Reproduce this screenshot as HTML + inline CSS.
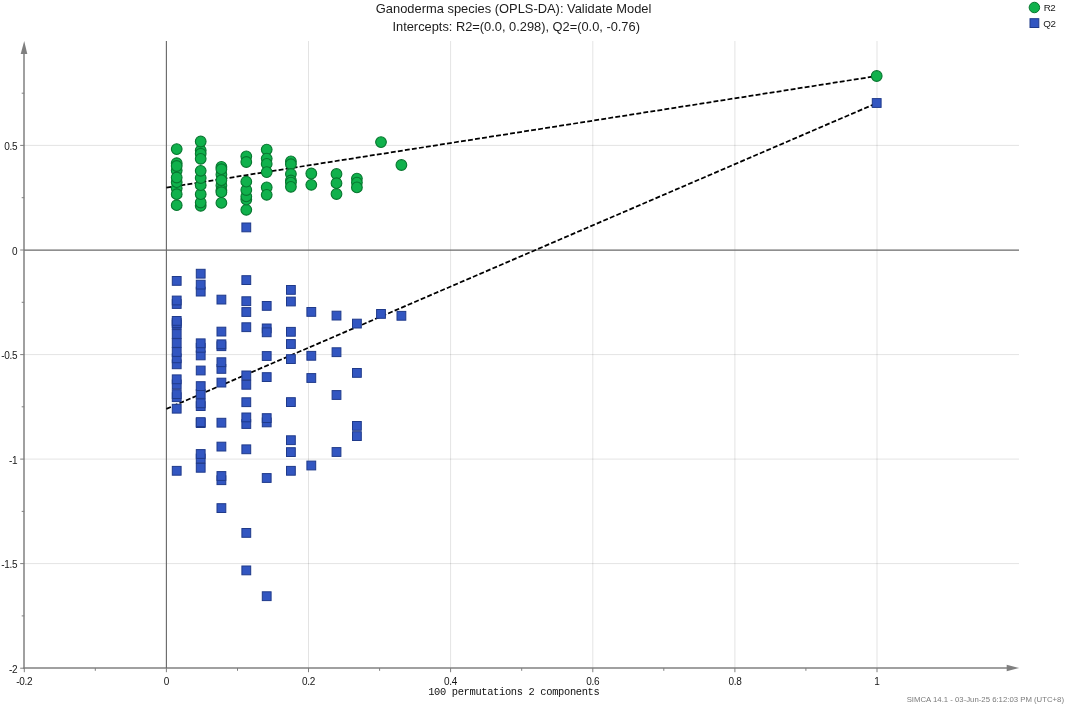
<!DOCTYPE html>
<html><head><meta charset="utf-8"><title>Validate Model</title>
<style>
html,body{margin:0;padding:0;background:#fff;}
body{width:1065px;height:705px;overflow:hidden;position:relative;font-family:"Liberation Sans",sans-serif;}
svg{position:absolute;left:0;top:0;display:block}
text{font-family:"Liberation Sans",sans-serif;fill:#222;}
.t{font-size:12.9px;text-anchor:middle;fill:#1c1c1c}
.t2{font-size:12.84px}
.tk{font-size:10px;fill:#161616;letter-spacing:-0.3px}
.lg{font-size:9.8px;fill:#1a1a1a;letter-spacing:-0.45px}
.xl{font-family:"Liberation Mono",monospace;font-size:10.4px;letter-spacing:-0.33px;fill:#111;text-anchor:middle}
.ft{font-size:7.78px;fill:#7a7a7a;text-anchor:end}
</style></head><body>
<svg width="1065" height="705" viewBox="0 0 1065 705">
<rect width="1065" height="705" fill="#fff"/>
<g stroke="#000" stroke-opacity="0.11" stroke-width="1" fill="none">
<line x1="308.5" y1="41" x2="308.5" y2="668"/>
<line x1="450.6" y1="41" x2="450.6" y2="668"/>
<line x1="592.8" y1="41" x2="592.8" y2="668"/>
<line x1="734.9" y1="41" x2="734.9" y2="668"/>
<line x1="877.0" y1="41" x2="877.0" y2="668"/>
<line x1="24" y1="145.4" x2="1019" y2="145.4"/>
<line x1="24" y1="354.6" x2="1019" y2="354.6"/>
<line x1="24" y1="459.1" x2="1019" y2="459.1"/>
<line x1="24" y1="563.6" x2="1019" y2="563.6"/>
</g>
<g stroke="#808080" stroke-width="1.5" fill="none">
<line x1="24" y1="50" x2="24" y2="668.75"/>
<line x1="23.25" y1="668" x2="1008" y2="668"/>
</g>
<g stroke="#6a6a6a" stroke-width="1.15" fill="none">
<line x1="166.4" y1="41" x2="166.4" y2="668"/>
<line x1="24.2" y1="250.1" x2="1019" y2="250.1"/>
</g>
<polygon points="24.2,41 20.7,54 27.3,54" fill="#7f7f7f"/>
<polygon points="1019.3,668 1006.7,664.8 1006.7,671.2" fill="#7f7f7f"/>
<g stroke="#7f7f7f" stroke-width="1" fill="none">
<line x1="24.3" y1="668" x2="24.3" y2="672.2"/>
<line x1="95.3" y1="668" x2="95.3" y2="670.8"/>
<line x1="166.4" y1="668" x2="166.4" y2="672.2"/>
<line x1="237.5" y1="668" x2="237.5" y2="670.8"/>
<line x1="308.5" y1="668" x2="308.5" y2="672.2"/>
<line x1="379.6" y1="668" x2="379.6" y2="670.8"/>
<line x1="450.6" y1="668" x2="450.6" y2="672.2"/>
<line x1="521.7" y1="668" x2="521.7" y2="670.8"/>
<line x1="592.8" y1="668" x2="592.8" y2="672.2"/>
<line x1="663.8" y1="668" x2="663.8" y2="670.8"/>
<line x1="734.9" y1="668" x2="734.9" y2="672.2"/>
<line x1="805.9" y1="668" x2="805.9" y2="670.8"/>
<line x1="877.0" y1="668" x2="877.0" y2="672.2"/>
<line x1="20.2" y1="668.2" x2="24.2" y2="668.2"/>
<line x1="21.7" y1="615.9" x2="24.2" y2="615.9"/>
<line x1="20.2" y1="563.6" x2="24.2" y2="563.6"/>
<line x1="21.7" y1="511.4" x2="24.2" y2="511.4"/>
<line x1="20.2" y1="459.1" x2="24.2" y2="459.1"/>
<line x1="21.7" y1="406.8" x2="24.2" y2="406.8"/>
<line x1="20.2" y1="354.6" x2="24.2" y2="354.6"/>
<line x1="21.7" y1="302.3" x2="24.2" y2="302.3"/>
<line x1="20.2" y1="250.0" x2="24.2" y2="250.0"/>
<line x1="21.7" y1="197.7" x2="24.2" y2="197.7"/>
<line x1="20.2" y1="145.4" x2="24.2" y2="145.4"/>
<line x1="21.7" y1="93.2" x2="24.2" y2="93.2"/>
</g>
<text class="tk" x="17.3" y="149.9" text-anchor="end">0.5</text>
<text class="tk" x="17.3" y="254.5" text-anchor="end">0</text>
<text class="tk" x="17.3" y="359.1" text-anchor="end">-0.5</text>
<text class="tk" x="17.3" y="463.6" text-anchor="end">-1</text>
<text class="tk" x="17.3" y="568.1" text-anchor="end">-1.5</text>
<text class="tk" x="17.3" y="672.7" text-anchor="end">-2</text>
<text class="tk" x="24.3" y="685.2" text-anchor="middle">-0.2</text>
<text class="tk" x="166.4" y="685.2" text-anchor="middle">0</text>
<text class="tk" x="308.5" y="685.2" text-anchor="middle">0.2</text>
<text class="tk" x="450.6" y="685.2" text-anchor="middle">0.4</text>
<text class="tk" x="592.8" y="685.2" text-anchor="middle">0.6</text>
<text class="tk" x="734.9" y="685.2" text-anchor="middle">0.8</text>
<text class="tk" x="877.0" y="685.2" text-anchor="middle">1</text>
<g stroke="#000" stroke-width="1.75" fill="none" stroke-dasharray="4.9 2.2">
<line x1="166.4" y1="187.7" x2="877.0" y2="76.0"/>
<line x1="166.4" y1="408.9" x2="877.0" y2="103.0"/>
</g>
<g fill="#10b14c" stroke="#08762f" stroke-width="1.1">
<circle cx="176.7" cy="188.2" r="5.35"/>
<circle cx="176.7" cy="205.2" r="5.35"/>
<circle cx="176.7" cy="194.2" r="5.35"/>
<circle cx="176.7" cy="170.5" r="5.35"/>
<circle cx="176.7" cy="182.2" r="5.35"/>
<circle cx="176.7" cy="177.5" r="5.35"/>
<circle cx="176.7" cy="163.2" r="5.35"/>
<circle cx="176.7" cy="166.0" r="5.35"/>
<circle cx="176.7" cy="149.1" r="5.35"/>
<circle cx="200.7" cy="205.8" r="5.35"/>
<circle cx="200.7" cy="202.5" r="5.35"/>
<circle cx="200.7" cy="194.2" r="5.35"/>
<circle cx="200.7" cy="185.2" r="5.35"/>
<circle cx="200.7" cy="178.0" r="5.35"/>
<circle cx="200.7" cy="170.8" r="5.35"/>
<circle cx="200.7" cy="150.3" r="5.35"/>
<circle cx="200.7" cy="153.7" r="5.35"/>
<circle cx="200.7" cy="158.8" r="5.35"/>
<circle cx="200.7" cy="141.5" r="5.35"/>
<circle cx="221.4" cy="174.5" r="5.35"/>
<circle cx="221.4" cy="185.5" r="5.35"/>
<circle cx="221.4" cy="202.9" r="5.35"/>
<circle cx="221.4" cy="190.3" r="5.35"/>
<circle cx="221.4" cy="192.2" r="5.35"/>
<circle cx="221.4" cy="180.2" r="5.35"/>
<circle cx="221.4" cy="166.9" r="5.35"/>
<circle cx="221.4" cy="169.2" r="5.35"/>
<circle cx="246.3" cy="209.8" r="5.35"/>
<circle cx="246.3" cy="199.6" r="5.35"/>
<circle cx="246.3" cy="196.4" r="5.35"/>
<circle cx="246.3" cy="190.0" r="5.35"/>
<circle cx="246.3" cy="181.7" r="5.35"/>
<circle cx="246.3" cy="156.3" r="5.35"/>
<circle cx="246.3" cy="162.0" r="5.35"/>
<circle cx="266.7" cy="149.6" r="5.35"/>
<circle cx="266.7" cy="158.6" r="5.35"/>
<circle cx="266.7" cy="163.9" r="5.35"/>
<circle cx="266.7" cy="172.1" r="5.35"/>
<circle cx="266.7" cy="187.3" r="5.35"/>
<circle cx="266.7" cy="194.8" r="5.35"/>
<circle cx="290.9" cy="161.3" r="5.35"/>
<circle cx="290.9" cy="164.2" r="5.35"/>
<circle cx="290.9" cy="174.0" r="5.35"/>
<circle cx="290.9" cy="180.5" r="5.35"/>
<circle cx="290.9" cy="182.6" r="5.35"/>
<circle cx="290.9" cy="186.8" r="5.35"/>
<circle cx="311.3" cy="173.5" r="5.35"/>
<circle cx="311.3" cy="184.8" r="5.35"/>
<circle cx="336.5" cy="174.0" r="5.35"/>
<circle cx="336.5" cy="183.2" r="5.35"/>
<circle cx="336.5" cy="194.0" r="5.35"/>
<circle cx="356.9" cy="178.6" r="5.35"/>
<circle cx="356.9" cy="182.6" r="5.35"/>
<circle cx="356.9" cy="187.4" r="5.35"/>
<circle cx="381.0" cy="142.1" r="5.35"/>
<circle cx="401.4" cy="165.0" r="5.35"/>
<circle cx="876.7" cy="76" r="5.35"/>
</g>
<g fill="#3256c1" stroke="#1f3a8a" stroke-width="1">
<rect x="172.30" y="276.50" width="8.8" height="8.8"/>
<rect x="172.30" y="299.60" width="8.8" height="8.8"/>
<rect x="172.30" y="296.10" width="8.8" height="8.8"/>
<rect x="172.30" y="359.90" width="8.8" height="8.8"/>
<rect x="172.30" y="353.90" width="8.8" height="8.8"/>
<rect x="172.30" y="347.60" width="8.8" height="8.8"/>
<rect x="172.30" y="338.60" width="8.8" height="8.8"/>
<rect x="172.30" y="329.60" width="8.8" height="8.8"/>
<rect x="172.30" y="320.30" width="8.8" height="8.8"/>
<rect x="172.30" y="318.60" width="8.8" height="8.8"/>
<rect x="172.30" y="316.50" width="8.8" height="8.8"/>
<rect x="172.30" y="392.80" width="8.8" height="8.8"/>
<rect x="172.30" y="389.70" width="8.8" height="8.8"/>
<rect x="172.30" y="380.00" width="8.8" height="8.8"/>
<rect x="172.30" y="374.90" width="8.8" height="8.8"/>
<rect x="172.30" y="404.30" width="8.8" height="8.8"/>
<rect x="172.30" y="466.40" width="8.8" height="8.8"/>
<rect x="196.30" y="269.30" width="8.8" height="8.8"/>
<rect x="196.30" y="287.20" width="8.8" height="8.8"/>
<rect x="196.30" y="280.20" width="8.8" height="8.8"/>
<rect x="196.30" y="351.00" width="8.8" height="8.8"/>
<rect x="196.30" y="343.40" width="8.8" height="8.8"/>
<rect x="196.30" y="338.90" width="8.8" height="8.8"/>
<rect x="196.30" y="366.10" width="8.8" height="8.8"/>
<rect x="196.30" y="401.70" width="8.8" height="8.8"/>
<rect x="196.30" y="398.90" width="8.8" height="8.8"/>
<rect x="196.30" y="389.60" width="8.8" height="8.8"/>
<rect x="196.30" y="381.70" width="8.8" height="8.8"/>
<rect x="196.30" y="418.70" width="8.8" height="8.8"/>
<rect x="196.30" y="417.70" width="8.8" height="8.8"/>
<rect x="196.30" y="463.40" width="8.8" height="8.8"/>
<rect x="196.30" y="454.10" width="8.8" height="8.8"/>
<rect x="196.30" y="449.60" width="8.8" height="8.8"/>
<rect x="217.00" y="295.20" width="8.8" height="8.8"/>
<rect x="217.00" y="327.20" width="8.8" height="8.8"/>
<rect x="217.00" y="341.80" width="8.8" height="8.8"/>
<rect x="217.00" y="339.90" width="8.8" height="8.8"/>
<rect x="217.00" y="364.50" width="8.8" height="8.8"/>
<rect x="217.00" y="357.80" width="8.8" height="8.8"/>
<rect x="217.00" y="378.20" width="8.8" height="8.8"/>
<rect x="217.00" y="418.30" width="8.8" height="8.8"/>
<rect x="217.00" y="442.20" width="8.8" height="8.8"/>
<rect x="217.00" y="475.80" width="8.8" height="8.8"/>
<rect x="217.00" y="471.60" width="8.8" height="8.8"/>
<rect x="217.00" y="503.70" width="8.8" height="8.8"/>
<rect x="241.90" y="223.00" width="8.8" height="8.8"/>
<rect x="241.90" y="275.70" width="8.8" height="8.8"/>
<rect x="241.90" y="296.80" width="8.8" height="8.8"/>
<rect x="241.90" y="307.60" width="8.8" height="8.8"/>
<rect x="241.90" y="322.80" width="8.8" height="8.8"/>
<rect x="241.90" y="380.40" width="8.8" height="8.8"/>
<rect x="241.90" y="371.00" width="8.8" height="8.8"/>
<rect x="241.90" y="397.80" width="8.8" height="8.8"/>
<rect x="241.90" y="419.60" width="8.8" height="8.8"/>
<rect x="241.90" y="413.00" width="8.8" height="8.8"/>
<rect x="241.90" y="444.90" width="8.8" height="8.8"/>
<rect x="241.90" y="528.50" width="8.8" height="8.8"/>
<rect x="241.90" y="566.00" width="8.8" height="8.8"/>
<rect x="262.30" y="301.50" width="8.8" height="8.8"/>
<rect x="262.30" y="324.00" width="8.8" height="8.8"/>
<rect x="262.30" y="327.90" width="8.8" height="8.8"/>
<rect x="262.30" y="351.60" width="8.8" height="8.8"/>
<rect x="262.30" y="372.70" width="8.8" height="8.8"/>
<rect x="262.30" y="418.00" width="8.8" height="8.8"/>
<rect x="262.30" y="413.70" width="8.8" height="8.8"/>
<rect x="262.30" y="473.60" width="8.8" height="8.8"/>
<rect x="262.30" y="591.80" width="8.8" height="8.8"/>
<rect x="286.50" y="285.50" width="8.8" height="8.8"/>
<rect x="286.50" y="297.10" width="8.8" height="8.8"/>
<rect x="286.50" y="327.40" width="8.8" height="8.8"/>
<rect x="286.50" y="339.60" width="8.8" height="8.8"/>
<rect x="286.50" y="354.70" width="8.8" height="8.8"/>
<rect x="286.50" y="397.70" width="8.8" height="8.8"/>
<rect x="286.50" y="435.80" width="8.8" height="8.8"/>
<rect x="286.50" y="447.70" width="8.8" height="8.8"/>
<rect x="286.50" y="466.40" width="8.8" height="8.8"/>
<rect x="306.90" y="307.50" width="8.8" height="8.8"/>
<rect x="306.90" y="351.40" width="8.8" height="8.8"/>
<rect x="306.90" y="373.60" width="8.8" height="8.8"/>
<rect x="306.90" y="461.10" width="8.8" height="8.8"/>
<rect x="332.10" y="311.20" width="8.8" height="8.8"/>
<rect x="332.10" y="347.80" width="8.8" height="8.8"/>
<rect x="332.10" y="390.60" width="8.8" height="8.8"/>
<rect x="332.10" y="447.60" width="8.8" height="8.8"/>
<rect x="352.50" y="319.20" width="8.8" height="8.8"/>
<rect x="352.50" y="368.50" width="8.8" height="8.8"/>
<rect x="352.50" y="431.70" width="8.8" height="8.8"/>
<rect x="352.50" y="421.50" width="8.8" height="8.8"/>
<rect x="376.60" y="309.50" width="8.8" height="8.8"/>
<rect x="397.00" y="311.40" width="8.8" height="8.8"/>
<rect x="872.30" y="98.60" width="8.8" height="8.8"/>
</g>
<circle cx="1034.4" cy="7.5" r="5.25" fill="#10b14c" stroke="#08762f" stroke-width="1"/>
<rect x="1030.0" y="18.700000000000003" width="8.8" height="8.8" fill="#3256c1" stroke="#1f3a8a" stroke-width="1"/>
<text class="lg" x="1043.7" y="10.6">R2</text>
<text class="lg" x="1043.3" y="26.6">Q2</text>
<text class="t" x="513.6" y="13.0">Ganoderma species (OPLS-DA): Validate Model</text>
<text class="t t2" x="516.2" y="30.6">Intercepts: R2=(0.0, 0.298), Q2=(0.0, -0.76)</text>
<text class="xl" x="513.8" y="695.2">100 permutations 2 components</text>
<text class="ft" x="1064" y="702.1">SIMCA 14.1 - 03-Jun-25 6:12:03 PM (UTC+8)</text>
</svg></body></html>
